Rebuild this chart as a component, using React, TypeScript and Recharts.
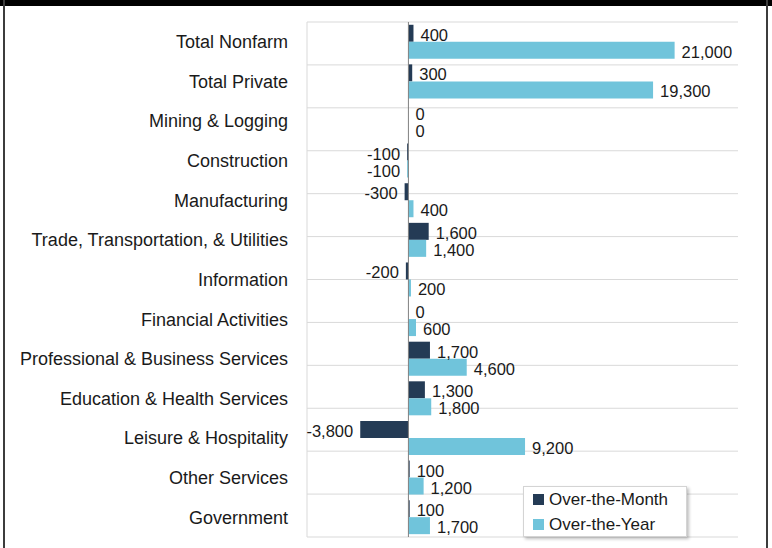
import React from "react";
import {
  BarChart,
  Bar,
  XAxis,
  YAxis,
  CartesianGrid,
  ReferenceLine,
  LabelList,
  Legend,
} from "recharts";

const categories = [
  "Total Nonfarm",
  "Total Private",
  "Mining & Logging",
  "Construction",
  "Manufacturing",
  "Trade, Transportation, & Utilities",
  "Information",
  "Financial Activities",
  "Professional & Business Services",
  "Education & Health Services",
  "Leisure & Hospitality",
  "Other Services",
  "Government",
];
const overTheMonth = [400, 300, 0, -100, -300, 1600, -200, 0, 1700, 1300, -3800, 100, 100];
const overTheYear = [21000, 19300, 0, -100, 400, 1400, 200, 600, 4600, 1800, 9200, 1200, 1700];
const seriesNames = ["Over-the-Month", "Over-the-Year"];
const xDomain = [-8000, 26000];

const data = categories.map((name, i) => ({
  name,
  month: overTheMonth[i],
  year: overTheYear[i],
}));
const gridTicks = Array.from({ length: categories.length + 1 }, (_, i) => i);

const DARK = "#243B55";
const LIGHT = "#70C4DB";
const FONT = "'Liberation Sans', Arial, sans-serif";

const fmt = (v: number) => v.toLocaleString("en-US");

const renderLabel = (props: any) => {
  const { x, y, width, height, value } = props;
  const v = Number(value);
  const nx = Number(x);
  const nw = Number(width) || 0;
  const end = v >= 0 ? Math.max(nx, nx + nw) : Math.min(nx, nx + nw);
  const tx = v >= 0 ? end + 7 : end - 7;
  return (
    <text
      x={tx}
      y={Number(y) + Number(height) / 2 + 1.5}
      textAnchor={v >= 0 ? "start" : "end"}
      dominantBaseline="central"
      fontSize={16.5}
      fontFamily={FONT}
      fill="#1a1a1a"
    >
      {fmt(v)}
    </text>
  );
};

const renderLegend = (props: any) => {
  const payload = props.payload || [];
  return (
    <div
      style={{
        width: 153,
        height: 49,
        background: "#fff",
        border: "1px solid #d4d4d4",
        boxShadow: "2px 2px 3px rgba(0,0,0,0.25)",
        fontFamily: FONT,
        fontSize: 17,
        color: "#1a1a1a",
        padding: "0 0 0 9px",
        boxSizing: "content-box",
      }}
    >
      {payload.map((p: any, i: number) => (
        <div key={i} style={{ display: "flex", alignItems: "center", height: 25 }}>
          <span
            style={{
              display: "inline-block",
              width: 11,
              height: 11,
              background: p.color,
              marginRight: 5,
            }}
          />
          <span>{p.value}</span>
        </div>
      ))}
    </div>
  );
};

export default function App() {
  return (
    <div
      style={{
        position: "relative",
        width: 772,
        height: 548,
        overflow: "hidden",
        background: "#fff",
        fontFamily: FONT,
      }}
    >
      <style>{`body{margin:0}`}</style>
      <div style={{ position: "absolute", left: 0, top: 0, width: 772, height: 6, background: "#000" }} />
      <div style={{ position: "absolute", left: 3, top: 0, width: 2, height: 548, background: "#3c3c3c" }} />
      <div style={{ position: "absolute", left: 766, top: 0, width: 2, height: 548, background: "#3c3c3c" }} />
      <div style={{ position: "absolute", left: 0, top: 0 }}>
        <BarChart
          width={772}
          height={548}
          data={data}
          layout="vertical"
          margin={{ top: 22, right: 34, bottom: 11, left: 0 }}
          barCategoryGap="7%"
          barGap={0}
        >
          <CartesianGrid yAxisId="grid" vertical={false} stroke="#d9d9d9" strokeWidth={1} />
          <XAxis type="number" domain={xDomain} hide allowDataOverflow />
          <YAxis
            type="category"
            dataKey="name"
            width={307}
            interval={0}
            tickLine={false}
            tickSize={0}
            tickMargin={19}
            axisLine={{ stroke: "#d9d9d9" }}
            tick={{ fontSize: 18, fill: "#1a1a1a", fontFamily: FONT }}
          />
          <YAxis
            yAxisId="grid"
            type="number"
            domain={[0, categories.length]}
            ticks={gridTicks}
            interval={0}
            hide
          />
          <Bar dataKey="month" name={seriesNames[0]} fill={DARK} minPointSize={0.01} isAnimationActive={false}>
            <LabelList dataKey="month" content={renderLabel} />
          </Bar>
          <Bar dataKey="year" name={seriesNames[1]} fill={LIGHT} minPointSize={0.01} isAnimationActive={false}>
            <LabelList dataKey="year" content={renderLabel} />
          </Bar>
          <ReferenceLine x={0} stroke="#808080" strokeWidth={1} />
          <Legend
            layout="vertical"
            align="center"
            verticalAlign="middle"
            content={renderLegend}
            wrapperStyle={{ position: "absolute", left: 523, top: 486, width: "auto" }}
          />
        </BarChart>
      </div>
    </div>
  );
}
